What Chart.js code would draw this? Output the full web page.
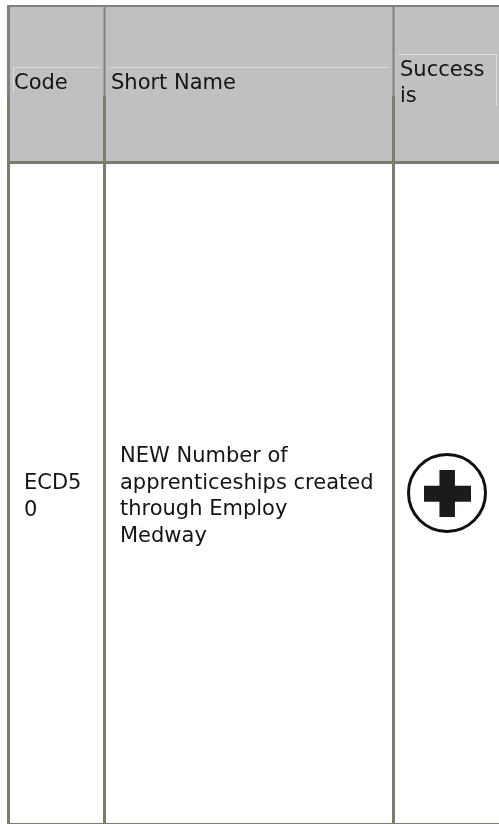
<!DOCTYPE html>
<html>
<head>
<meta charset="utf-8">
<script src="https://cdn.jsdelivr.net/npm/chart.js@4"></script>
<style>
  html, body { margin: 0; padding: 0; background: #fff; }
  canvas { display: block; }
</style>
</head>
<body>
<canvas id="tableChart" width="499" height="824"></canvas>
<script>
// table, everything in scale units (same as pixels here)
var headers = ['Code', 'Short Name', ['Success', 'is']];
var codeCell = ['ECD5', '0'];
var nameCell = ['NEW Number of', 'apprenticeships created', 'through Employ', 'Medway'];

var columnLines = [8.5, 104.5, 393.5];
var headerTop = 6;
var headerSplit = 96;
var headerBottom = 162.5;
var tableBottom = 823.5;
var tableRight = 499;

var faintLines = [
    [[13, 67.5], [99.5, 67.5]],
    [[13.5, 67], [13.5, 93]],
    [[110, 67.5], [388, 67.5]],
    [[399, 54.5], [496, 54.5]],
    [[496.5, 54], [496.5, 106]]
];

var iconCenter = [447, 493];
var iconRadius = 38.5;
var plusArmH = [[424, 493.7], [471, 493.7]];
var plusArmV = [[447.2, 470], [447.2, 517]];

function line(points, color, width) {
    return {
        type: 'line',
        data: points.map(function (p) { return { x: p[0], y: p[1] }; }),
        borderColor: color,
        borderWidth: width,
        borderCapStyle: 'butt',
        pointRadius: 0,
        tension: 0
    };
}

var datasets = [];

// header band
var band = line([[columnLines[0], headerTop], [tableRight, headerTop]], '#c0c0c0', 0);
band.fill = { value: headerBottom };
band.backgroundColor = '#c0c0c0';
datasets.push(band);

faintLines.forEach(function (l) {
    datasets.push(line(l, '#dcdcdc', 1));
});

// table rules, lighter and thinner in the top half of the header
columnLines.forEach(function (x, i) {
    datasets.push(line([[x, headerTop], [x, headerSplit]], '#808080', i === 0 ? 3 : 2));
    datasets.push(line([[x, headerSplit], [x, tableBottom]], '#7b7b70', 3));
});
datasets.push(line([[columnLines[0] - 1.5, headerTop], [tableRight, headerTop]], '#808080', 2));
datasets.push(line([[columnLines[0] - 1.5, headerBottom], [tableRight, headerBottom]], '#7b7b70', 3));
datasets.push(line([[columnLines[0] - 1.5, tableBottom], [tableRight, tableBottom]], '#7b7b70', 1));

// plus icon
datasets.push({
    type: 'scatter',
    data: [{ x: iconCenter[0], y: iconCenter[1] }],
    pointStyle: 'circle',
    pointRadius: iconRadius,
    pointBackgroundColor: '#fff',
    pointBorderColor: '#111',
    pointBorderWidth: 3
});
datasets.push(line(plusArmH, '#1c1a1a', 16));
datasets.push(line(plusArmV, '#1c1a1a', 15.5));

// chart.js paints the first dataset on top, so flip to keep the order above
datasets.reverse();

var cellText = {
    id: 'cellText',
    afterDatasetsDraw: function (chart) {
        var ctx = chart.ctx;
        var x = chart.scales.x;
        var y = chart.scales.y;
        function put(lines, px, py, lh) {
            [].concat(lines).forEach(function (t, i) {
                ctx.fillText(t, x.getPixelForValue(px), y.getPixelForValue(py + i * lh));
            });
        }
        ctx.save();
        ctx.font = '21px "DejaVu Sans"';
        ctx.fillStyle = '#141414';
        ctx.textBaseline = 'alphabetic';
        put(headers[0], 14, 89, 0);
        put(headers[1], 111, 89, 0);
        put(headers[2], 400, 76, 26);
        put(codeCell, 24, 489, 27);
        put(nameCell, 120, 462, 26.6);
        ctx.restore();
    }
};

new Chart(document.getElementById('tableChart').getContext('2d'), {
    type: 'scatter',
    data: { datasets: datasets },
    options: {
        responsive: false,
        animation: false,
        events: [],
        layout: { padding: 0, autoPadding: false },
        plugins: { legend: { display: false }, tooltip: { enabled: false }, title: { display: false } },
        scales: {
            x: { type: 'linear', min: 0, max: 499, display: false },
            y: { type: 'linear', min: 0, max: 824, reverse: true, display: false }
        }
    },
    plugins: [cellText]
});
</script>
</body>
</html>
